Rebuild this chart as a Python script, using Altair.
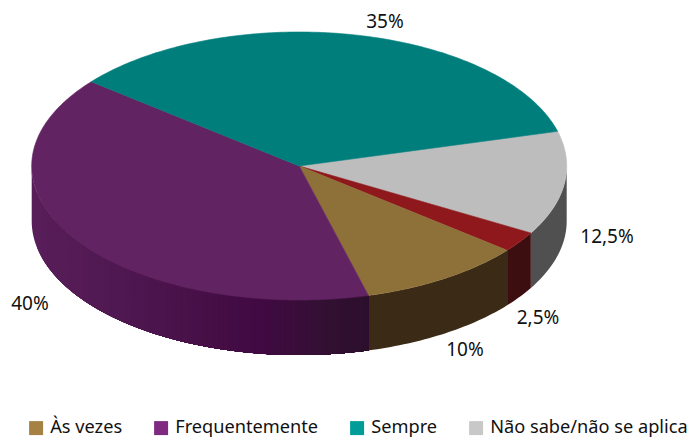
import math
import altair as alt

# Data
categories = ["Não sabe/não se aplica", "Nunca", "Às vezes", "Frequentemente", "Sempre"]
shares = [12.5, 2.5, 10, 40, 35]
labels = ["12,5%", "2,5%", "10%", "40%", "35%"]
top_colors = ["#bdbdbd", "#8e181b", "#8e7039", "#622362", "#007e7c"]
wall_shades = [
    ["#505050"],
    ["#3c0e10"],
    ["#3a2a16"],
    ["#581e5a", "#561c57", "#541b55", "#521a53", "#501851", "#4e164f", "#4c144c", "#4a1249",
     "#471047", "#440e45", "#420b43", "#410a42", "#3c0c3d", "#370e38", "#331033", "#2f0f30", "#2c0f2d"],
    [],
]
legend_names = ["Às vezes", "Frequentemente", "Sempre", "Não sabe/não se aplica"]
legend_colors = ["#a58243", "#7f2a80", "#009c97", "#c8c8c8"]

# Layout (pixels in the drawing, page margin removed)
CX, CY, RX, RY, DEPTH = 291.2, 158, 267.5, 134, 55
START = 15.0
ARC_STEP = 1.0
SHADE_STEPS = 4
LABEL_OFFSETS = [(42.6, 53.5), (18.4, 76.1), (20.1, 71.6), (-44.9, 65), (30.2, -13)]
FONT = "Noto Sans"
PROJECTION = dict(type="identity", scale=1, translate=[0, 0])


def rim(t, drop=0):
    a = math.radians(t)
    return [CX + RX * math.cos(a), CY - RY * math.sin(a) + drop]


def arc(t0, t1, drop=0):
    n = max(1, int(abs(t1 - t0) / ARC_STEP))
    return [rim(t0 + (t1 - t0) * i / n, drop) for i in range(n + 1)]


def feature(ring, color):
    return {
        "type": "Feature",
        "geometry": {"type": "Polygon", "coordinates": [ring + [ring[0]]]},
        "properties": {"color": color},
    }


def front_angle(x):
    return -math.degrees(math.acos(max(-1.0, min(1.0, (x - CX) / RX))))


def smooth(stops):
    if len(stops) < 2:
        return stops
    rgb = [[int(s[i:i + 2], 16) for i in (1, 3, 5)] for s in stops]
    out = []
    for a, b in zip(rgb, rgb[1:]):
        for k in range(SHADE_STEPS):
            out.append("#%02x%02x%02x" % tuple(round(p + (q - p) * k / SHADE_STEPS) for p, q in zip(a, b)))
    out.append(stops[-1])
    return out


tops, walls, texts = [], [], []
t = START
for share, label, color, stops, off in zip(shares, labels, top_colors, wall_shades, LABEL_OFFSETS):
    end = t - share * 3.6
    tops.append(feature([[CX, CY]] + arc(t, end), color))
    lo, hi = max(end, -180.0), min(t, 0.0)
    shades = smooth(stops)
    if shades and hi > lo:
        x_lo, x_hi = rim(lo)[0], rim(hi)[0]
        for i, shade in enumerate(shades):
            # Each band runs on to the slice's end, so the next band paints over it without a seam.
            b0 = front_angle(x_lo + (x_hi - x_lo) * i / len(shades))
            walls.append(feature(arc(b0, hi) + arc(hi, b0, DEPTH), shade))
    mid = math.radians((t + end) / 2)
    texts.append({
        "label": label,
        "px": CX + RX * math.cos(mid) + off[0],
        "py": CY - RY * math.sin(mid) + off[1],
    })
    t = end


def shapes(features, stroke_width):
    return (
        alt.Chart(alt.InlineData(values=features, format=alt.DataFormat(type="json")))
        .mark_geoshape(strokeWidth=stroke_width)
        .encode(
            fill=alt.Fill("properties.color:N", scale=None, legend=None),
            stroke=alt.Stroke("properties.color:N", scale=None, legend=None),
        )
        .project(**PROJECTION)
    )


label_layer = (
    alt.Chart(alt.Data(values=texts))
    .mark_text(font=FONT, fontSize=19, color="#111111", align="center", baseline="middle")
    .encode(longitude="px:Q", latitude="py:Q", text="label:N")
    .project(**PROJECTION)
)

legend_layer = (
    alt.Chart(alt.Data(values=[{"name": n, "px": CX, "py": CY} for n in legend_names]))
    .mark_square(opacity=0)
    .encode(
        longitude="px:Q",
        latitude="py:Q",
        color=alt.Color(
            "name:N",
            scale=alt.Scale(domain=legend_names, range=legend_colors),
            legend=alt.Legend(
                title=None,
                orient="none",
                legendX=19,
                legendY=411,
                direction="horizontal",
                columns=4,
                gridAlign="none",
                columnPadding=29,
                symbolType="square",
                symbolSize=196,
                symbolOpacity=1,
                symbolStrokeWidth=0,
                labelFont=FONT,
                labelFontSize=18.2,
                labelColor="#111111",
                labelLimit=400,
                labelOffset=5,
            ),
        ),
    )
    .project(**PROJECTION)
)

chart = (
    alt.layer(shapes(walls, 0), shapes(tops, 0.6), label_layer, legend_layer)
    .properties(width=680, height=429, padding=0, autosize=alt.AutoSizeParams(type="none"))
    .configure_view(stroke=None)
)

chart.save("out.html", embed_options={"renderer": "svg", "actions": False})
